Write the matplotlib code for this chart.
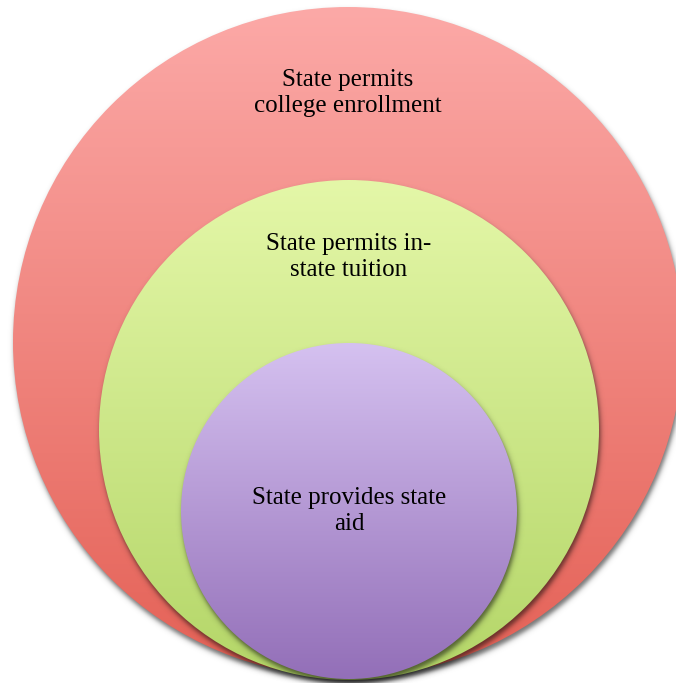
import numpy as np
import matplotlib
matplotlib.use('Agg')
import matplotlib.pyplot as plt
from matplotlib.patches import Circle

# nested sets, outermost first
labels = ['State permits\ncollege enrollment',
          'State permits in-\nstate tuition',
          'State provides state\naid']
# gradient colours (top, bottom) for each set
grad_top = [(252, 169, 167), (228, 247, 168), (213, 193, 240)]
grad_bot = [(228, 97, 86), (180, 214, 104), (147, 111, 184)]

# circle layout in pixels: centre x, centre y, radius, label y
centres = [(348, 342), (349, 430), (349, 511)]
radii = [335, 250, 168]
label_y = [93, 257, 511]

W, H = 676, 683
fig = plt.figure(figsize=(W / 100, H / 100), dpi=100, facecolor='white')
ax = fig.add_axes([0, 0, 1, 1])
ax.set_xlim(0, W)
ax.set_ylim(H, 0)
ax.axis('off')

yy, xx = np.mgrid[0:H, 0:W] + 0.5

for i, ((cx, cy), r) in enumerate(zip(centres, radii)):
    # soft drop shadow, shifted down and slightly right
    d = np.hypot(xx - (cx + 1.5), yy - (cy + 4))
    a = 0.55 * 0.5 * (1 - np.tanh((d - r) / 3.0))
    shadow = np.zeros((H, W, 4))
    shadow[..., 3] = a
    ax.imshow(shadow, extent=(0, W, H, 0), zorder=3 * i, interpolation='bilinear')

    # vertical gradient clipped to the circle
    t = np.linspace(0, 1, 256)[:, None]
    top = np.array(grad_top[i]) / 255
    bot = np.array(grad_bot[i]) / 255
    grad = top[None, :] * (1 - t) + bot[None, :] * t
    grad = np.repeat(grad[:, None, :], 2, axis=1)
    im = ax.imshow(grad, extent=(cx - r, cx + r, cy + r, cy - r),
                   zorder=3 * i + 1, interpolation='bilinear', aspect='auto')
    circ = Circle((cx, cy), r, facecolor='none', edgecolor='none')
    ax.add_patch(circ)
    im.set_clip_path(circ)

    ax.text(cx, label_y[i], labels[i], ha='center', va='center',
            fontsize=18, family='Liberation Serif', color='black',
            linespacing=1.22, zorder=3 * i + 2)

ax.set_xlim(0, W)
ax.set_ylim(H, 0)
fig.savefig('out.png', dpi=100, facecolor='white')
